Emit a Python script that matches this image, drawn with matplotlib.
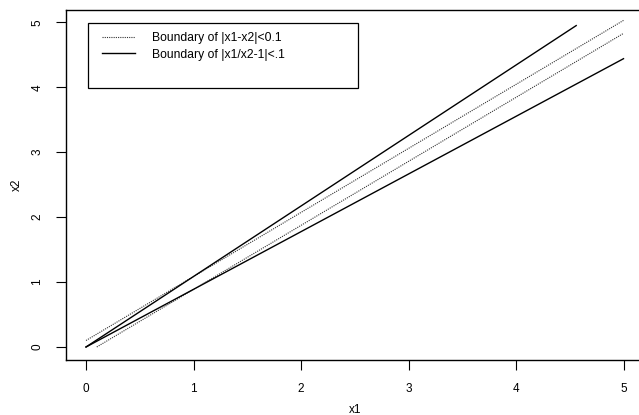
import matplotlib
matplotlib.use("Agg")
import matplotlib.pyplot as plt
from matplotlib.patches import Rectangle

plt.rcParams['font.family'] = ['Liberation Sans', 'DejaVu Sans']

# boundary of |x1-x2|<0.1 (dotted), end points
diff_upper_x1 = [0.0, 5.0]
diff_upper_x2 = [0.1, 5.03]
diff_lower_x1 = [0.1, 5.0]
diff_lower_x2 = [0.0, 4.83]

# boundary of |x1/x2-1|<.1 (solid)
ratio_upper_x1 = [0.0, 4.56]
ratio_upper_x2 = [0.0, 4.95]
ratio_lower_x1 = [0.0, 5.0]
ratio_lower_x2 = [0.0, 4.44]

legend_labels = ['Boundary of |x1-x2|<0.1', 'Boundary of |x1/x2-1|<.1']
ticks = [0, 1, 2, 3, 4, 5]

W, H = 639, 415
fig = plt.figure(figsize=(W / 100, H / 100), dpi=100)
ax = fig.add_axes([65.7 / W, 1 - 360.3 / H, (645 - 65.7) / W, (360.3 - 10) / H])

dot = (0, (1, 1))
l1, = ax.plot(diff_upper_x1, diff_upper_x2, color='#333333', lw=0.8, ls=dot)
ax.plot(diff_lower_x1, diff_lower_x2, color='#333333', lw=0.8, ls=dot)
l2, = ax.plot(ratio_upper_x1, ratio_upper_x2, color='black', lw=1.0)
ax.plot(ratio_lower_x1, ratio_lower_x2, color='black', lw=1.0)

ax.set_xlim(-0.189, 5.2)
ax.set_ylim(-0.205, 5.19)
ax.set_xticks(ticks)
ax.set_yticks(ticks)
ax.tick_params(direction='out', length=7, width=0.8, labelsize=8.5, pad=9)
for lab in ax.get_yticklabels():
    lab.set_rotation(90)
    lab.set_va('center')
for s in ax.spines.values():
    s.set_linewidth(1.0)

ax.set_xlabel('x1', fontsize=8.5, labelpad=7)
ax.set_ylabel('x2', fontsize=8.5, labelpad=6)

# legend box
ax.add_patch(Rectangle((87.7 / W, 1 - 88.3 / H), (357.7 - 87.7) / W, (88.3 - 22.7) / H,
                       transform=fig.transFigure, fill=False, lw=0.9, ec='black'))
fig.legend([l1, l2], legend_labels, loc='upper left', bbox_to_anchor=(102 / W, 1 - 32.5 / H),
           frameon=False, fontsize=8.7, handlelength=2.7, handletextpad=1.4,
           labelspacing=0.35, borderpad=0, borderaxespad=0)

fig.savefig('out.png', dpi=100)
